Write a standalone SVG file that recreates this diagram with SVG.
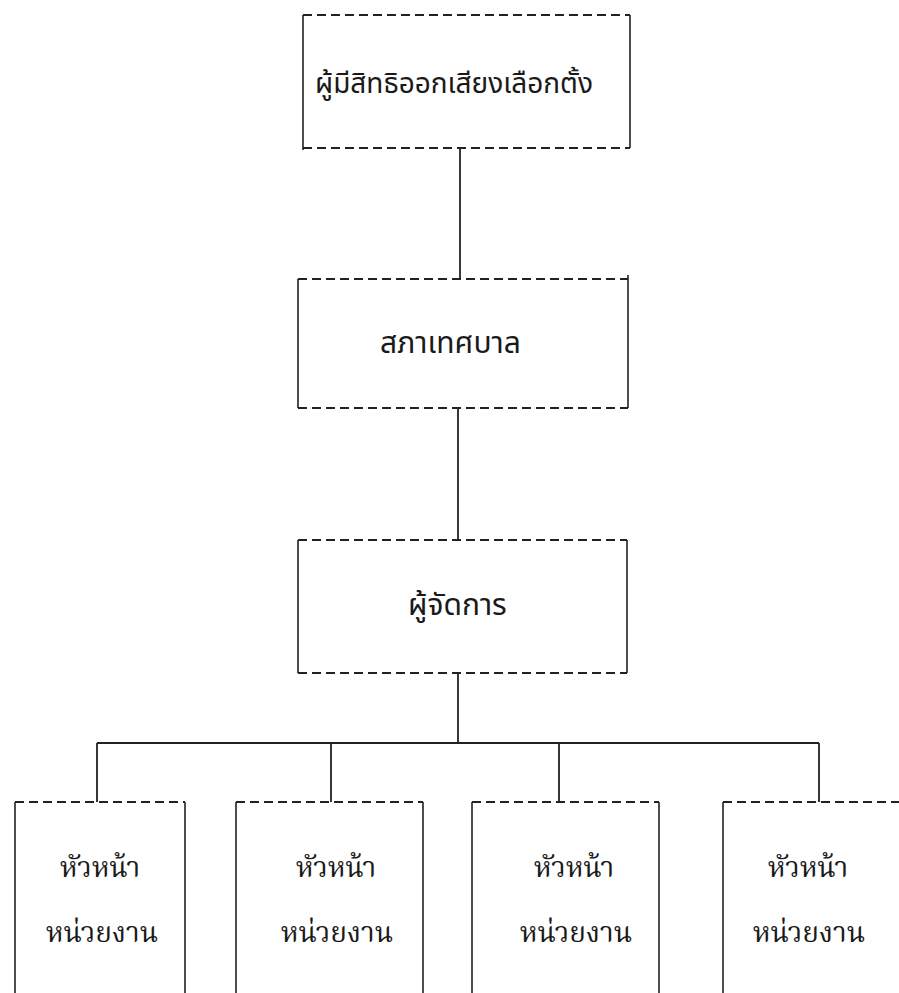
<svg xmlns="http://www.w3.org/2000/svg" width="899" height="993" viewBox="0 0 899 993">
<style>
.bg{fill:#ffffff}
.dash{stroke:#222;stroke-width:2;stroke-dasharray:9 5;fill:none}
.side{stroke:#222;stroke-width:1.6;fill:none}
.conn{stroke:#222;stroke-width:1.8;fill:none}
.t1{font-family:"Noto Sans Thai","Noto Sans","Loma","Liberation Sans",sans-serif;font-size:30px;fill:#1a1a1a}
.t2{font-family:"Noto Serif Thai","Noto Sans Thai","Noto Sans","Liberation Serif",serif;font-size:28px;fill:#1a1a1a;text-anchor:middle}
</style>
<rect class="bg" x="0" y="0" width="899" height="993"/>
<g id="connectors">
<path class="conn" d="M460 148 V279"/>
<path class="conn" d="M458 408 V540"/>
<path class="conn" d="M458 673 V743"/>
<path class="conn" d="M97 743 H819"/>
<path class="conn" d="M97 743 V802"/>
<path class="conn" d="M331 743 V802"/>
<path class="conn" d="M559 743 V802"/>
<path class="conn" d="M819 743 V802"/>
</g>
<g id="voters">
<path class="dash" d="M303 15 H630"/>
<path class="dash" d="M303 148 H630"/>
<path class="side" d="M303 15 V150 M630 15 V148"/>
<text class="t1" x="315" y="93" style="font-size:28px">ผู้มีสิทธิออกเสียงเลือกตั้ง</text>
</g>
<g id="council">
<path class="dash" d="M298 279 H628"/>
<path class="dash" d="M298 408 H628"/>
<path class="side" d="M298 279 V408 M628 275 V408"/>
<text class="t1" x="380" y="353">สภาเทศบาล</text>
</g>
<g id="manager">
<path class="dash" d="M298 540 H627"/>
<path class="dash" d="M298 673 H627"/>
<path class="side" d="M298 540 V673 M627 540 V673"/>
<text class="t1" x="408" y="615">ผู้จัดการ</text>
</g>
<g id="unit1">
<path class="dash" d="M15 802 H185"/>
<path class="side" d="M15 802 V993 M185 802 V993"/>
<text class="t2" x="100" y="877">หัวหน้า</text>
<text class="t2" x="102" y="942">หน่วยงาน</text>
</g>
<g id="unit2">
<path class="dash" d="M236 802 H423"/>
<path class="side" d="M236 802 V993 M423 802 V993"/>
<text class="t2" x="336" y="877">หัวหน้า</text>
<text class="t2" x="337" y="942">หน่วยงาน</text>
</g>
<g id="unit3">
<path class="dash" d="M472 802 H659"/>
<path class="side" d="M472 802 V993 M659 802 V993"/>
<text class="t2" x="574" y="877">หัวหน้า</text>
<text class="t2" x="576" y="942">หน่วยงาน</text>
</g>
<g id="unit4">
<path class="dash" d="M723 802 H899"/>
<path class="side" d="M723 802 V993"/>
<text class="t2" x="808" y="877">หัวหน้า</text>
<text class="t2" x="809" y="942">หน่วยงาน</text>
</g>
</svg>
